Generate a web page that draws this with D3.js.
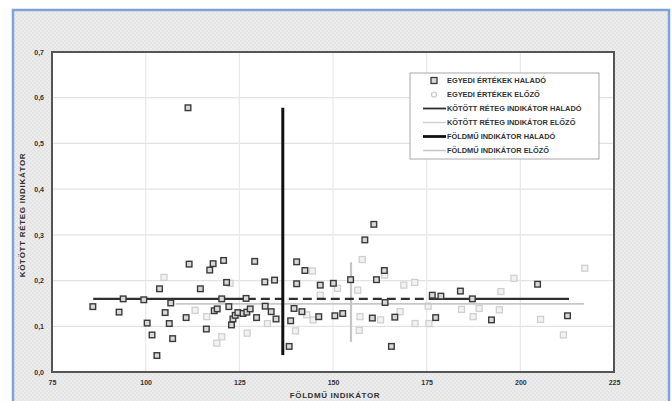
<!DOCTYPE html>
<html>
<head>
<meta charset="utf-8">
<script src="https://cdn.jsdelivr.net/npm/d3@7"></script>
<style>
  html, body { margin: 0; padding: 0; background: #ffffff; }
  svg { display: block; }
  text { font-family: "Liberation Sans", Arial, sans-serif; font-weight: bold; fill: #333; }
</style>
</head>
<body>
<svg id="chart" width="672" height="401"></svg>
<script>
// Axis ticks
const xTicks = [75, 100, 125, 150, 175, 200, 225];
const yTicks = [0, 0.1, 0.2, 0.3, 0.4, 0.5, 0.6, 0.7];

// Individual values – current survey (HALADÓ)
const haladoX = [85.9, 92.9, 100.4, 101.7, 103.0, 103.7, 105.2, 106.3, 106.7, 107.2, 110.8, 111.3, 111.6, 114.6, 116.2, 117.1, 118.0, 118.3, 119.1, 120.8, 121.6, 122.2, 122.9, 123.3, 123.9, 124.6, 126.0, 127.0, 127.9, 129.1, 129.6, 131.8, 131.9, 133.5, 134.4, 134.8, 138.3, 138.7, 139.6, 140.3, 140.3, 141.7, 142.5, 146.2, 146.6, 150.1, 150.5, 152.6, 154.7, 158.5, 160.9, 160.5, 161.6, 163.7, 163.9, 165.6, 166.5, 176.5, 177.4, 178.8, 184.0, 192.3, 204.6, 212.6, 94.0, 99.5, 120.3, 126.8, 187.2];
const haladoY = [0.143, 0.131, 0.107, 0.081, 0.036, 0.182, 0.130, 0.106, 0.151, 0.073, 0.119, 0.578, 0.236, 0.182, 0.094, 0.223, 0.237, 0.134, 0.138, 0.244, 0.196, 0.143, 0.103, 0.116, 0.124, 0.130, 0.128, 0.131, 0.138, 0.242, 0.119, 0.197, 0.144, 0.132, 0.201, 0.116, 0.056, 0.112, 0.139, 0.241, 0.193, 0.132, 0.222, 0.121, 0.190, 0.194, 0.123, 0.128, 0.202, 0.289, 0.323, 0.118, 0.202, 0.222, 0.152, 0.056, 0.120, 0.168, 0.119, 0.166, 0.177, 0.114, 0.192, 0.123, 0.160, 0.158, 0.160, 0.161, 0.160];

// Individual values – previous survey (ELŐZŐ)
const elozoX = [104.9, 113.2, 116.3, 119.0, 120.3, 122.5, 127.1, 132.5, 140.0, 143.0, 144.5, 144.7, 146.6, 151.2, 156.6, 157.0, 157.2, 157.8, 162.7, 163.8, 167.9, 168.9, 171.8, 171.9, 175.6, 175.4, 184.3, 187.4, 189.0, 194.4, 194.8, 198.3, 205.4, 211.5, 217.2];
const elozoY = [0.207, 0.135, 0.121, 0.063, 0.077, 0.194, 0.085, 0.106, 0.090, 0.125, 0.221, 0.114, 0.168, 0.183, 0.179, 0.091, 0.121, 0.246, 0.114, 0.212, 0.132, 0.190, 0.196, 0.106, 0.106, 0.144, 0.137, 0.121, 0.139, 0.136, 0.176, 0.205, 0.115, 0.081, 0.227];

// Indicator lines: bound-layer indicator (horizontal) and earthwork indicator (vertical)
const kototHaladoY = 0.16;
const kototHaladoBreaks = [86, 127, 177, 213];   // solid | dashed | solid stretches
const kototElozoY = 0.149;
const kototElozoX = [108, 217];
const foldmuHaladoX = 136.6;
const foldmuHaladoY = [0.037, 0.578];
const foldmuElozoX = 154.8;
const foldmuElozoY = [0.066, 0.24];

const legendLabels = [
  "EGYEDI ÉRTÉKEK HALADÓ",
  "EGYEDI ÉRTÉKEK ELŐZŐ",
  "KÖTÖTT RÉTEG INDIKÁTOR HALADÓ",
  "KÖTÖTT RÉTEG INDIKÁTOR ELŐZŐ",
  "FÖLDMŰ INDIKÁTOR HALADÓ",
  "FÖLDMŰ INDIKÁTOR ELŐZŐ"
];
const xTitle = "FÖLDMŰ INDIKÁTOR";
const yTitle = "KÖTÖTT RÉTEG INDIKÁTOR";

const svg = d3.select("#chart");
const huFormat = d3.formatLocale({ decimal: ",", thousands: " ", grouping: [3], currency: ["", " Ft"] }).format(".1f");

// Textured page background with a blue frame
const defs = svg.append("defs");
const pat = defs.append("pattern").attr("id", "grain").attr("width", 4).attr("height", 4)
  .attr("patternUnits", "userSpaceOnUse");
pat.append("rect").attr("width", 4).attr("height", 4).attr("fill", "#ececec");
pat.append("rect").attr("width", 2).attr("height", 2).attr("fill", "#e4e4e4");
pat.append("rect").attr("x", 2).attr("y", 2).attr("width", 2).attr("height", 2).attr("fill", "#e4e4e4");

svg.append("rect").attr("x", 13).attr("y", 10).attr("width", 656).attr("height", 400)
  .attr("fill", "url(#grain)").attr("stroke", "#7ea2da").attr("stroke-width", 2.5);

const margin = { left: 52, top: 52, right: 614, bottom: 372 };
const x = d3.scaleLinear().domain([75, 225]).range([margin.left, margin.right]);
const y = d3.scaleLinear().domain([0, 0.7]).range([margin.bottom, margin.top]);

// Plot area
svg.append("rect").attr("x", margin.left).attr("y", margin.top)
  .attr("width", margin.right - margin.left).attr("height", margin.bottom - margin.top)
  .attr("fill", "#ffffff");

// Grid
svg.append("g").selectAll("line.gy").data(yTicks.slice(1, -1)).join("line")
  .attr("x1", margin.left).attr("x2", margin.right)
  .attr("y1", d => y(d)).attr("y2", d => y(d))
  .attr("stroke", "#e2e2e2").attr("stroke-width", 1.2);
svg.append("g").selectAll("line.gx").data(xTicks.slice(1, -1)).join("line")
  .attr("y1", margin.top).attr("y2", margin.bottom)
  .attr("x1", d => x(d)).attr("x2", d => x(d))
  .attr("stroke", "#e8e8e8").attr("stroke-width", 1.2);

// Axes (labels only; frame drawn separately)
const xAxis = svg.append("g").attr("transform", `translate(0,${margin.bottom})`)
  .call(d3.axisBottom(x).tickValues(xTicks).tickSize(0).tickPadding(8).tickFormat(d3.format("d")));
const yAxis = svg.append("g").attr("transform", `translate(${margin.left},0)`)
  .call(d3.axisLeft(y).tickValues(yTicks).tickSize(0).tickPadding(8).tickFormat(huFormat));
[xAxis, yAxis].forEach(a => {
  a.select(".domain").remove();
  a.selectAll("text").style("font-size", "7px").style("font-family", "Liberation Sans, Arial, sans-serif")
    .style("font-weight", "bold").attr("fill", "#333");
});

// Previous-survey points (light)
svg.append("g").selectAll("rect").data(d3.range(elozoX.length)).join("rect")
  .attr("x", i => x(elozoX[i]) - 3).attr("y", i => y(elozoY[i]) - 3)
  .attr("width", 6).attr("height", 6)
  .attr("fill", "#f2f2f2").attr("stroke", "#d0d0d0").attr("stroke-width", 1.3);

// Bound-layer indicator, previous
svg.append("line")
  .attr("x1", x(kototElozoX[0])).attr("x2", x(kototElozoX[1]))
  .attr("y1", y(kototElozoY)).attr("y2", y(kototElozoY))
  .attr("stroke", "#c8c8c8").attr("stroke-width", 1.6);

// Earthwork indicator, previous
svg.append("line")
  .attr("x1", x(foldmuElozoX)).attr("x2", x(foldmuElozoX))
  .attr("y1", y(foldmuElozoY[0])).attr("y2", y(foldmuElozoY[1]))
  .attr("stroke", "#c4c4c4").attr("stroke-width", 2.2);

// Bound-layer indicator, current: solid ends with a dashed middle stretch
svg.append("g").selectAll("line").data(d3.range(kototHaladoBreaks.length - 1)).join("line")
  .attr("x1", i => x(kototHaladoBreaks[i])).attr("x2", i => x(kototHaladoBreaks[i + 1]))
  .attr("y1", y(kototHaladoY)).attr("y2", y(kototHaladoY))
  .attr("stroke", "#2f2f2f").attr("stroke-width", 2.4)
  .attr("stroke-dasharray", i => i === 1 ? "9,5" : null);

// Current-survey points (dark)
svg.append("g").selectAll("rect").data(d3.range(haladoX.length)).join("rect")
  .attr("x", i => x(haladoX[i]) - 2.8).attr("y", i => y(haladoY[i]) - 2.8)
  .attr("width", 5.6).attr("height", 5.6)
  .attr("fill", "#d8d8d8").attr("stroke", "#3a3a3a").attr("stroke-width", 1.4);

// Earthwork indicator, current
svg.append("line")
  .attr("x1", x(foldmuHaladoX)).attr("x2", x(foldmuHaladoX))
  .attr("y1", y(foldmuHaladoY[0])).attr("y2", y(foldmuHaladoY[1]))
  .attr("stroke", "#111").attr("stroke-width", 3);

// Plot frame
svg.append("rect").attr("x", margin.left).attr("y", margin.top)
  .attr("width", margin.right - margin.left).attr("height", margin.bottom - margin.top)
  .attr("fill", "none").attr("stroke", "#555").attr("stroke-width", 2);

// Axis titles
svg.append("text").attr("x", 335).attr("y", 398)
  .attr("text-anchor", "middle").style("font-size", "8px").style("letter-spacing", "0.6px").text(xTitle);
svg.append("text").attr("transform", `translate(25,${(margin.top + margin.bottom) / 2 + 3}) rotate(-90)`)
  .attr("text-anchor", "middle").style("font-size", "8px").style("letter-spacing", "0.7px").text(yTitle);

// Legend
const lg = svg.append("g");
lg.append("rect").attr("x", 410).attr("y", 73).attr("width", 189).attr("height", 86)
  .attr("fill", "#fff").attr("stroke", "#a8a8a8").attr("stroke-width", 1);
const rowY = i => 80.5 + i * 14;
const rows = lg.selectAll("g.row").data(legendLabels).join("g").attr("class", "row")
  .attr("transform", (d, i) => `translate(0,${rowY(i)})`);
rows.append("text").attr("x", 447).attr("y", 2.6).style("font-size", "7.4px").attr("fill", "#444").text(d => d);
rows.each(function (d, i) {
  const g = d3.select(this);
  if (i === 0) {
    g.append("rect").attr("x", 431).attr("y", -3).attr("width", 6).attr("height", 6)
      .attr("fill", "#d8d8d8").attr("stroke", "#3a3a3a").attr("stroke-width", 1.3);
  } else if (i === 1) {
    g.append("circle").attr("cx", 434).attr("cy", 0).attr("r", 2.5)
      .attr("fill", "#fff").attr("stroke", "#c8c8c8").attr("stroke-width", 1.2);
  } else {
    const style = [null, null, ["#2f2f2f", 1.8], ["#cfcfcf", 1.4], ["#111", 2.8], ["#c8c8c8", 1.6]][i];
    g.append("line").attr("x1", 423).attr("x2", 446).attr("y1", 0).attr("y2", 0)
      .attr("stroke", style[0]).attr("stroke-width", style[1]);
  }
});
</script>
</body>
</html>
